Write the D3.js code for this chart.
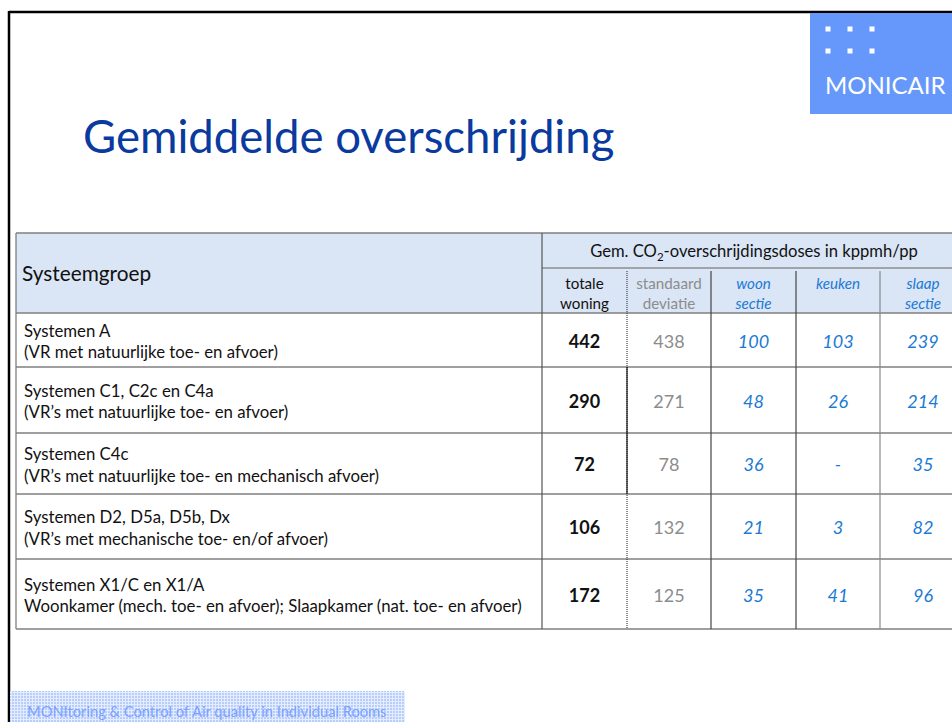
<!DOCTYPE html>
<html>
<head>
<meta charset="utf-8">
<script src="https://cdn.jsdelivr.net/npm/d3@7"></script>
<style>
  body { margin:0; background:#fff; }
  svg { display:block; font-family: Lato, "Open Sans", sans-serif; }
</style>
</head>
<body>
<div id="slide"></div>
<script>
// table data
const groups = [
  ["Systemen A", "(VR met natuurlijke toe- en afvoer)"],
  ["Systemen C1, C2c en C4a", "(VR\u2019s met natuurlijke toe- en afvoer)"],
  ["Systemen C4c", "(VR\u2019s met natuurlijke toe- en mechanisch afvoer)"],
  ["Systemen D2, D5a, D5b, Dx", "(VR\u2019s met mechanische toe- en/of afvoer)"],
  ["Systemen X1/C en X1/A", "Woonkamer (mech. toe- en afvoer); Slaapkamer (nat. toe- en afvoer)"]
]
const totaal  = [442, 290, 72, 106, 172]
const stdev   = [438, 271, 78, 132, 125]
const woon    = [100, 48, 36, 21, 35]
const keuken  = [103, 26, null, 3, 41]
const slaap   = [239, 214, 35, 82, 96]
const colKeys = ["groep", "totaal", "stdev", "woon", "keuken", "slaap"]
const colHeads = [["Systeemgroep"], ["totale", "woning"], ["standaard", "deviatie"], ["woon", "sectie"], ["keuken"], ["slaap", "sectie"]]

const W = 952, H = 722
const svg = d3.select("#slide").append("svg").attr("width", W).attr("height", H)

// pattern for the footer band
const defs = svg.append("defs")
const pat = defs.append("pattern").attr("id", "dots").attr("width", 3).attr("height", 3)
  .attr("patternUnits", "userSpaceOnUse")
pat.append("rect").attr("width", 3).attr("height", 3).attr("fill", "#e4ecff")
pat.append("rect").attr("width", 2).attr("height", 2).attr("fill", "#b9cdfa")

// slide frame
svg.append("line").attr("x1", 9).attr("x2", W).attr("y1", 12).attr("y2", 12)
  .attr("stroke", "#000").attr("stroke-width", 2.5)
svg.append("line").attr("x1", 9).attr("x2", 9).attr("y1", 11).attr("y2", H)
  .attr("stroke", "#000").attr("stroke-width", 2.5)

// logo
const logo = svg.append("g").attr("transform", "translate(810,13)")
logo.append("rect").attr("width", 150).attr("height", 101).attr("fill", "#6698fc")
const dx = d3.scalePoint().domain([0, 1, 2]).range([18, 62])
const dy = d3.scalePoint().domain([0, 1]).range([16, 38])
for (let i of [0, 1, 2]) for (let j of [0, 1]) {
  logo.append("rect").attr("x", dx(i) - 2.5).attr("y", dy(j) - 2.5).attr("width", 5).attr("height", 5).attr("fill", "#fff")
}
logo.append("text").attr("x", 15).attr("y", 81).attr("fill", "#fff")
  .style("font-size", "24px").text("MONICAIR")

// title
svg.append("text").attr("x", 83).attr("y", 153).attr("fill", "#0a3a9e")
  .style("font-size", "45.5px").text("Gemiddelde overschrijding")

// table geometry
const colEdges = [16, 542, 627, 711, 796, 880, 966]
const x0 = d3.scaleOrdinal().domain(colKeys).range(colEdges.slice(0, 6))
const x1 = d3.scaleOrdinal().domain(colKeys).range(colEdges.slice(1))
const xc = k => (x0(k) + x1(k)) / 2
const rowEdges = [313, 367, 433, 494, 559, 629]
const rowIdx = d3.range(groups.length)
const y0 = d3.scaleOrdinal().domain(rowIdx).range(rowEdges.slice(0, 5))
const y1 = d3.scaleOrdinal().domain(rowIdx).range(rowEdges.slice(1))
const yc = i => (y0(i) + y1(i)) / 2
const tTop = 233, subTop = 268, headBot = 313

const tbl = svg.append("g")
// header background
tbl.append("rect").attr("x", colEdges[0]).attr("y", tTop).attr("width", colEdges[6] - colEdges[0])
  .attr("height", headBot - tTop).attr("fill", "#dae5f5")

// horizontal rules
const hLines = [tTop, headBot].concat(rowEdges.slice(1))
tbl.selectAll(null).data(hLines).enter().append("line")
  .attr("x1", colEdges[0]).attr("x2", colEdges[6]).attr("y1", d => d).attr("y2", d => d)
  .attr("stroke", "#7f7f7f").attr("stroke-width", 1.3)
tbl.append("line").attr("x1", colEdges[1]).attr("x2", colEdges[6]).attr("y1", subTop).attr("y2", subTop)
  .attr("stroke", "#8c8c8c").attr("stroke-width", 1.3)

// vertical rules
tbl.append("line").attr("x1", colEdges[0]).attr("x2", colEdges[0]).attr("y1", tTop).attr("y2", rowEdges[5])
  .attr("stroke", "#7f7f7f").attr("stroke-width", 1.3)
tbl.append("line").attr("x1", colEdges[1]).attr("x2", colEdges[1]).attr("y1", tTop).attr("y2", rowEdges[5])
  .attr("stroke", "#555").attr("stroke-width", 1.2)
for (let k of ["woon", "keuken", "slaap"]) {
  tbl.append("line").attr("x1", x0(k)).attr("x2", x0(k)).attr("y1", subTop + 3).attr("y2", rowEdges[5])
    .attr("stroke", k == "slaap" ? "#8a8a8a" : "#444").attr("stroke-width", 1.2)
}
// the std column edge is dotted except in rows 2 and 3
const xs = x0("stdev")
tbl.append("line").attr("x1", xs).attr("x2", xs).attr("y1", subTop + 3).attr("y2", rowEdges[5])
  .attr("stroke", "#222").attr("stroke-width", 1).attr("stroke-dasharray", "1,1")
tbl.append("line").attr("x1", xs).attr("x2", xs).attr("y1", rowEdges[1]).attr("y2", rowEdges[3])
  .attr("stroke", "#111").attr("stroke-width", 1.2)

// header texts
tbl.append("text").attr("x", 22).attr("y", 281).attr("fill", "#111")
  .style("font-size", "20.8px").text("Systeemgroep")
const gem = tbl.append("text").attr("x", (colEdges[1] + colEdges[6]) / 2).attr("y", 257)
  .attr("text-anchor", "middle").attr("fill", "#111").style("font-size", "16.6px")
gem.append("tspan").text("Gem. CO")
gem.append("tspan").attr("dy", 4).style("font-size", "11.5px").text("2")
gem.append("tspan").attr("dy", -4).text("-overschrijdingsdoses in kppmh/pp")

const headColor = {totaal: "#111", stdev: "#8c8c8c", woon: "#1a7ad4", keuken: "#1a7ad4", slaap: "#1a7ad4"}
colKeys.slice(1).forEach((k, i) => {
  colHeads[i + 1].forEach((s, j) => {
    tbl.append("text").attr("x", xc(k)).attr("y", 289 + j * 20).attr("text-anchor", "middle")
      .attr("fill", headColor[k]).style("font-size", "15.2px")
      .style("font-style", i >= 2 ? "italic" : "normal").text(s)
  })
})

// row labels
tbl.selectAll(null).data(rowIdx).enter().append("text")
  .attr("x", 24).attr("y", i => yc(i) - 3.5).attr("fill", "#111").style("font-size", "16.8px")
  .text(i => groups[i][0])
tbl.selectAll(null).data(rowIdx).enter().append("text")
  .attr("x", 24).attr("y", i => yc(i) + 18).attr("fill", "#111").style("font-size", "16.8px")
  .text(i => groups[i][1])

// values
const series = [
  {key: "totaal", vals: totaal, color: "#111", weight: "bold", style: "normal"},
  {key: "stdev", vals: stdev, color: "#8c8c8c", weight: "normal", style: "normal"},
  {key: "woon", vals: woon, color: "#1a7ad4", weight: "normal", style: "italic"},
  {key: "keuken", vals: keuken, color: "#1a7ad4", weight: "normal", style: "italic"},
  {key: "slaap", vals: slaap, color: "#1a7ad4", weight: "normal", style: "italic"}
]
for (let s of series) {
  tbl.selectAll(null).data(s.vals).enter().append("text")
    .attr("x", xc(s.key)).attr("y", (d, i) => yc(i) + 7.5)
    .attr("text-anchor", "middle").attr("fill", s.color)
    .style("font-size", "18px").style("font-weight", s.weight).style("font-style", s.style)
    .text(d => d == null ? "-" : d)
}

// footer band
svg.append("rect").attr("x", 10).attr("y", 691).attr("width", 395).attr("height", 31).attr("fill", "url(#dots)")
svg.append("text").attr("x", 27).attr("y", 717).attr("fill", "#7aa2ff")
  .style("font-size", "14.7px").text("MONItoring & Control of Air quality in Individual Rooms")
</script>
</body>
</html>
